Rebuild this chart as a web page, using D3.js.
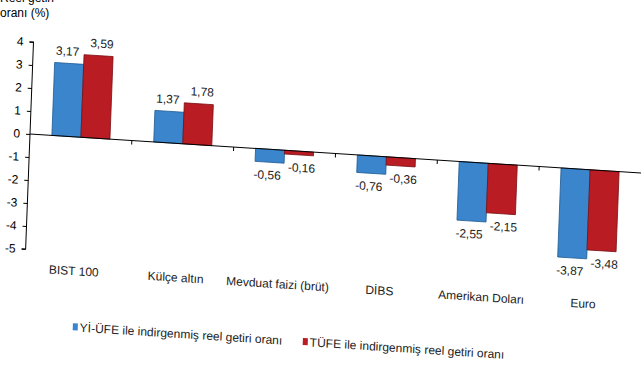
<!DOCTYPE html>
<html>
<head>
<meta charset="utf-8">
<script src="https://cdn.jsdelivr.net/npm/d3@7"></script>
<style>
  body { margin: 0; background: #fff; }
  text { font-family: "Liberation Sans", Arial, sans-serif; }
</style>
</head>
<body>
<svg width="641" height="380"></svg>
<script>
var categories = ["BIST 100", "Külçe altın", "Mevduat faizi (brüt)", "DİBS", "Amerikan Doları", "Euro"];
var seriesNames = ["Yİ-ÜFE ile indirgenmiş reel getiri oranı", "TÜFE ile indirgenmiş reel getiri oranı"];
var yiufe = [3.17, 1.37, -0.56, -0.76, -2.55, -3.87];
var tufe = [3.59, 1.78, -0.16, -0.36, -2.15, -3.48];
var yTicks = [-5, -4, -3, -2, -1, 0, 1, 2, 3, 4];

var colors = ["#3a85cb", "#b91c22"],
    strokes = ["#1f5c94", "#7a1014"];

var svg = d3.select("svg");

// title (first line is cut at the top edge)
svg.append("text").attr("x", 0).attr("y", 2).style("font-size", "12px").text("Reel getiri");
svg.append("text").attr("x", 0).attr("y", 17).style("font-size", "12px").text("oranı (%)");

// whole plot is drawn slightly skewed, like the source picture
var g = svg.append("g")
    .attr("transform", "matrix(1,0.064,-0.038,1,30,134)");

var x0 = d3.scaleBand().domain(categories).range([0, 611]).paddingInner(0.43).paddingOuter(0.215);
var x1 = d3.scaleBand().domain([0, 1]).range([0, x0.bandwidth()]);
var y = d3.scaleLinear().domain([-5, 4]).range([115, -92]);

var data = categories.map(function(c, i) {
  return { cat: c, values: [yiufe[i], tufe[i]] };
});

// y axis
var yAxis = g.append("g")
    .call(d3.axisLeft(y).tickValues(yTicks).tickSize(4).tickPadding(6).tickFormat(function(d) { return String(d); }));
yAxis.selectAll("text").style("font-size", "12px").style("font-family", "Liberation Sans, Arial, sans-serif").attr("fill", "#000");
yAxis.selectAll("line, path").attr("stroke", "#000");
yAxis.select(".domain").attr("d", "M-4," + y(-5) + "H0V" + y(4) + "H-4");

// bars
var groups = g.selectAll(".cat")
    .data(data)
    .enter().append("g")
    .attr("transform", function(d) { return "translate(" + x0(d.cat) + ",0)"; });

groups.selectAll("rect")
    .data(function(d) { return d.values; })
    .enter().append("rect")
    .attr("x", function(d, i) { return x1(i); })
    .attr("y", function(d) { return y(Math.max(0, d)); })
    .attr("width", x1.bandwidth())
    .attr("height", function(d) { return Math.abs(y(d) - y(0)); })
    .attr("fill", function(d, i) { return colors[i]; })
    .attr("stroke", function(d, i) { return strokes[i]; })
    .attr("stroke-width", 0.8);

groups.selectAll(".val")
    .data(function(d) { return d.values; })
    .enter().append("text")
    .attr("text-anchor", "middle")
    .attr("x", function(d, i) { return x1(i) + x1.bandwidth() / 2 + (i === 0 ? -2 : 3); })
    .attr("y", function(d) { return d >= 0 ? y(d) - 8 : y(d) + 17; })
    .style("font-size", "12px")
    .attr("fill", "#222")
    .text(function(d) { return d.toFixed(2).replace(".", ","); });

// zero line with category ticks
g.append("line")
    .attr("x1", 0).attr("x2", 625)
    .attr("y1", y(0)).attr("y2", y(0))
    .attr("stroke", "#000");

g.selectAll(".ctick")
    .data(categories.slice(1))
    .enter().append("line")
    .attr("x1", function(d) { return x0(d) - x0.step() * 0.215; })
    .attr("x2", function(d) { return x0(d) - x0.step() * 0.215; })
    .attr("y1", y(0)).attr("y2", y(0) + 4)
    .attr("stroke", "#000");

// category labels
g.selectAll(".clabel")
    .data(categories)
    .enter().append("text")
    .attr("text-anchor", "middle")
    .attr("x", function(d) { return x0(d) + x0.bandwidth() / 2 - 2; })
    .attr("y", 138)
    .style("font-size", "12px")
    .attr("fill", "#222")
    .text(function(d) { return d; });

// legend
var legX = [50, 280];
var leg = g.selectAll(".leg")
    .data(seriesNames)
    .enter().append("g")
    .attr("transform", function(d, i) { return "translate(" + legX[i] + ",190)"; });

leg.append("rect")
    .attr("x", 0).attr("y", -4)
    .attr("width", 5).attr("height", 7)
    .attr("fill", function(d, i) { return colors[i]; });

leg.append("text")
    .attr("x", 7).attr("y", 4)
    .style("font-size", "12px")
    .attr("fill", "#222")
    .text(function(d) { return d; });
</script>
</body>
</html>
